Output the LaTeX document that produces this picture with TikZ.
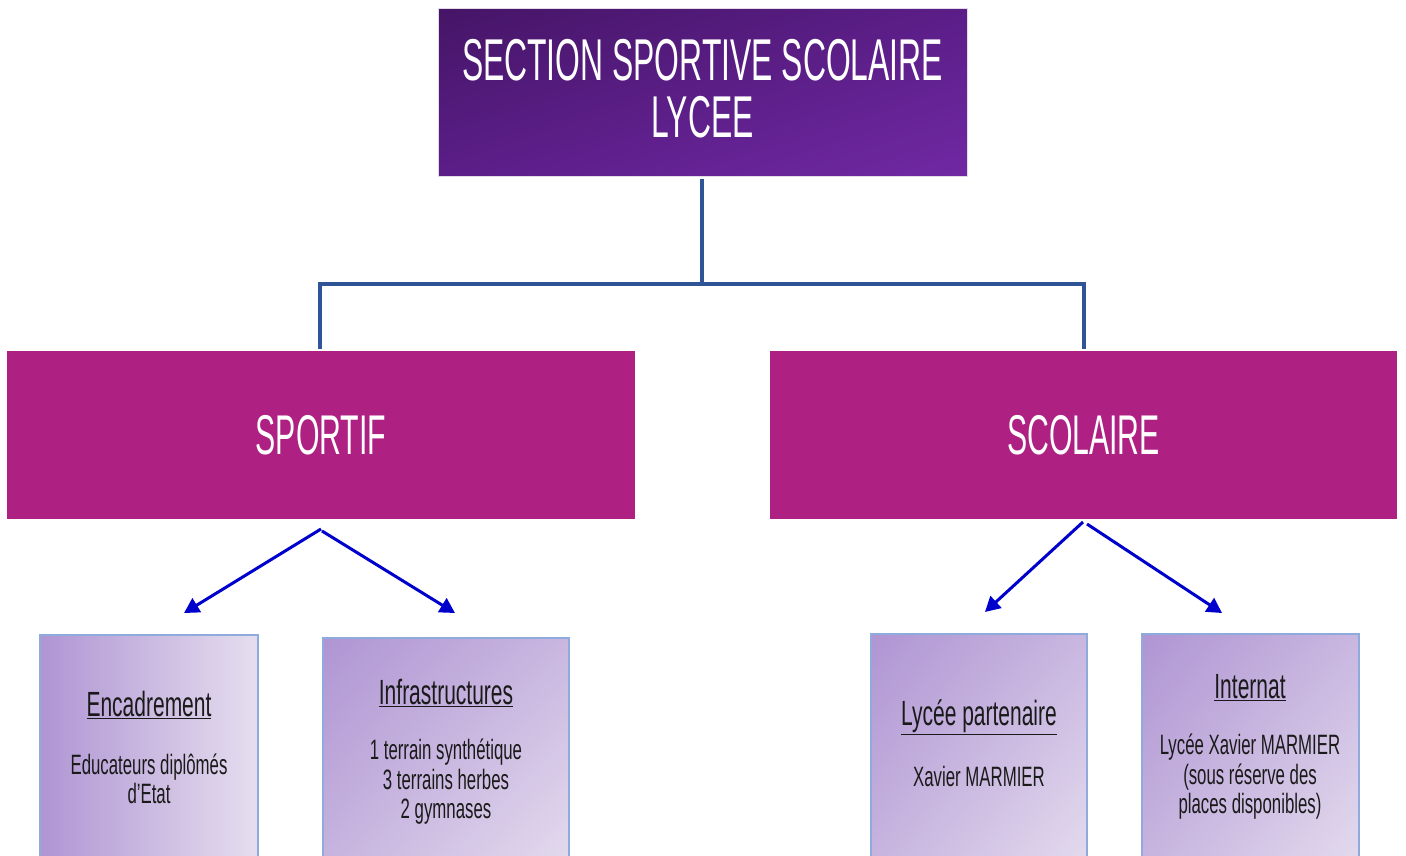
\documentclass[tikz,border=0pt]{standalone}
\usepackage{fontspec}
\setmainfont{Liberation Sans}
\newfontfamily\titlef{Liberation Sans}[FakeStretch=0.54]
\newfontfamily\bodyf{Liberation Sans}[FakeStretch=0.6]
\usetikzlibrary{arrows.meta,shadings}
\definecolor{tdark}{HTML}{451566}
\definecolor{tmid}{HTML}{5B1E88}
\definecolor{tlight}{HTML}{7028A3}
\definecolor{mag}{HTML}{AE2082}
\definecolor{conn}{HTML}{2F5597}
\definecolor{arr}{HTML}{0000CC}
\definecolor{bdark}{HTML}{AF95D3}
\definecolor{bmid}{HTML}{C9B7E0}
\definecolor{blight}{HTML}{E6DEEF}
\definecolor{bord}{HTML}{8FAADC}
\definecolor{ink}{HTML}{1A1A1A}
\tikzset{
  titlebox/.style={draw=white!85!tdark, line width=1pt, upper left=tdark, upper right=tmid, lower left=tmid, lower right=tlight, minimum width=529pt, minimum height=168pt, inner sep=0pt},
  catbox/.style={fill=mag, draw=none, minimum width=628pt, minimum height=168pt, inner sep=0pt, text=white, font=\titlef\fontsize{56}{56}\selectfont},
  leafbox/.style={draw=bord, line width=2pt, upper left=bdark, upper right=bmid, lower left=bmid, lower right=blight, minimum height=250pt, inner sep=0pt},
  leafboxh/.style={draw=bord, line width=2pt, left color=bdark, right color=blight, minimum height=250pt, inner sep=0pt},
  heading/.style={text=ink, font=\bodyf\fontsize{35}{35}\selectfont, inner sep=0pt},
  body/.style={text=ink, align=center, font=\bodyf\fontsize{28}{29.5}\selectfont, inner sep=0pt},
  tree/.style={draw=conn, line width=3.2pt},
  arrowc/.style={draw=arr, line width=3pt, -{Triangle[length=15pt,width=16pt]}}
}
\begin{document}
\begin{tikzpicture}[x=1pt,y=-1pt]
\useasboundingbox (0,0) rectangle (1406,855);
% title
\node[titlebox] (title) at (702.5,92) {};
\node[text=white, align=center, font=\titlef\fontsize{59}{57}\selectfont, inner sep=0pt] (ttext) at (702.5,89) {SECTION SPORTIVE SCOLAIRE\\LYCEE};
% categories
\node[catbox] (sportif) at (321,435) {SPORTIF};
\node[catbox, minimum width=627pt] (scolaire) at (1083.5,435) {SCOLAIRE};
% tree connector
\coordinate (tb) at (702,179);
\coordinate (jn) at (702,284);
\coordinate (sl) at (320,349);
\coordinate (sr) at (1084,349);
\draw[tree] (tb) -- (jn);
\draw[tree] (sl) |- (jn) -| (sr);
% leaf boxes
\node[leafboxh, minimum width=218pt, anchor=north] (enc) at (149,634) {};
\node[leafbox, minimum width=246pt, anchor=north] (inf) at (446,637) {};
\node[leafbox, minimum width=216pt, anchor=north] (lyc) at (979,633) {};
\node[leafbox, minimum width=217pt, anchor=north] (int) at (1250.5,633) {};
% arrows
\coordinate (a1s) at (321,529);
\coordinate (a1e) at (184,613);
\coordinate (a2s) at (322,531);
\coordinate (a2e) at (455,613);
\coordinate (a3s) at (1083,522);
\coordinate (a3e) at (985,612);
\coordinate (a4s) at (1087,524);
\coordinate (a4e) at (1222,613);
\draw[arrowc] (a1s) -- (a1e);
\draw[arrowc] (a2s) -- (a2e);
\draw[arrowc] (a3s) -- (a3e);
\draw[arrowc] (a4s) -- (a4e);
% texts
\node[heading] (h1) at (149,705) {\underline{Encadrement}};
\node[body] (b1) at (149,779) {Educateurs diplômés\\d’Etat};
\node[heading] (h2) at (446,693) {\underline{Infrastructures}};
\node[body] (b2) at (446,782) {1 terrain synthétique\\3 terrains herbes\\2 gymnases};
\node[heading] (h3) at (979,717) {\underline{Lycée partenaire}};
\node[body] (b3) at (979,776) {Xavier MARMIER};
\node[heading] (h4) at (1250,688) {\underline{Internat}};
\node[body] (b4) at (1250,777) {Lycée Xavier MARMIER\\(sous réserve des\\places disponibles)};
\end{tikzpicture}
\end{document}
